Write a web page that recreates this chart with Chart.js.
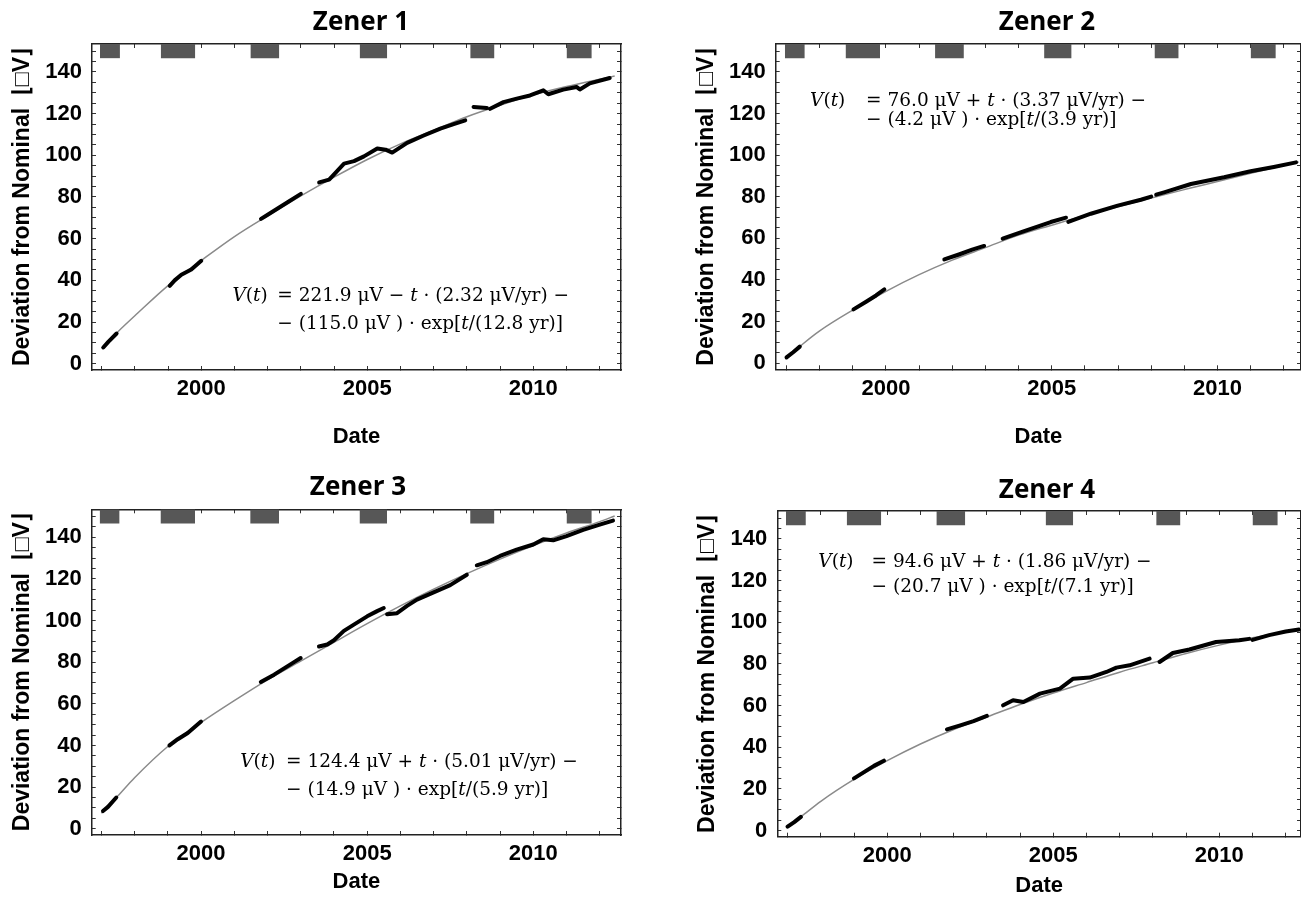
<!DOCTYPE html>
<html>
<head>
<meta charset="utf-8">
<script src="https://cdn.jsdelivr.net/npm/chart.js@4.4.0/dist/chart.umd.min.js"></script>
<style>
  html, body { margin: 0; padding: 0; background: #fff; }
  #wrap { position: relative; width: 1301px; height: 901px; overflow: hidden; }
  canvas { position: absolute; }
</style>
</head>
<body>
<div id="wrap">
  <canvas id="c1" width="650" height="450" style="left:0;top:0"></canvas>
  <canvas id="c2" width="651" height="450" style="left:650px;top:0"></canvas>
  <canvas id="c3" width="650" height="451" style="left:0;top:450px"></canvas>
  <canvas id="c4" width="651" height="451" style="left:650px;top:450px"></canvas>
</div>
<script>
// --- tick labels ---
const xTickLabels = [2000, 2005, 2010];
const yTickLabels = [0, 20, 40, 60, 80, 100, 120, 140];

// --- grey marks along the top of each frame (years) ---
const markStart = [1996.95, 1998.78, 2001.48, 2004.77, 2008.10, 2011.00];
const markEnd   = [1997.55, 1999.82, 2002.35, 2005.60, 2008.83, 2011.76];
const markLow = 146.6;
const markHigh = 153.4;

// --- fitted curves ---
const fitYears = [1997.0, 1997.5, 1998, 1999, 2000, 2001, 2002, 2003, 2004, 2005, 2006, 2007, 2008, 2009, 2010, 2011, 2012, 2012.45];
const z1Fit = [7.5, 15.5, 23, 37.5, 49.5, 61, 71, 80.5, 89.5, 98, 105.5, 112, 118.5, 124, 129, 133, 136.5, 138];
const z2Fit = [2.3, 9.3, 15.5, 25.5, 34.5, 42.5, 49.5, 55.5, 61.5, 66.3, 71, 75.2, 79.4, 83.4, 87.3, 91.2, 95, 96.7];
const z3Fit = [7.5, 15.8, 24.5, 39.5, 51, 61.5, 71.5, 80.5, 89.5, 98.5, 107, 115, 122.5, 129.5, 136, 142, 147.5, 150.2];
const z4Fit = [1.5, 7.8, 14, 24.5, 33.5, 41.5, 48.5, 54.5, 60.5, 66, 71, 76, 80.5, 85, 89, 92.5, 95.5, 97];

// --- measured deviations (null = no data) ---
const z1Years = [1997.05, 1997.2, 1997.45, 1998,
  1999.05, 1999.2, 1999.4, 1999.7, 2000.0, 2001,
  2001.8, 2002.0, 2002.3, 2002.6, 2003.0, 2003.3,
  2003.55, 2003.85, 2003.95, 2004.3, 2004.6, 2004.9, 2005.3, 2005.55, 2005.75, 2006.2, 2006.7, 2007.2, 2007.6, 2007.95, 2008.1,
  2008.2, 2008.6, 2008.65,
  2008.7, 2009.1, 2009.5, 2009.9, 2010.3, 2010.45, 2010.9, 2011.3, 2011.4, 2011.7, 2012.3];
const z1Vals = [7.8, 10.5, 14.5, null,
  37.4, 40, 42.7, 45.2, 49.4, null,
  69.5, 71.5, 74.5, 77.5, 81.5, null,
  87, 88.3, 90, 96, 97.2, 99.5, 103.3, 102.7, 101.3, 106, 109.5, 112.8, 115, 116.8, null,
  123.2, 122.7, null,
  122.3, 125.5, 127.2, 128.7, 131.2, 129.3, 131.5, 132.8, 131.6, 134.5, 137.1];

const z2Years = [1997.0, 1997.2, 1997.4, 1998,
  1999.02, 1999.4, 1999.7, 1999.95, 2001,
  2001.76, 2002.2, 2002.6, 2002.96, 2003.2,
  2003.52, 2004.17, 2004.97, 2005.43, 2005.46,
  2005.5, 2006.18, 2006.99, 2007.69, 2008.0, 2008.07,
  2008.15, 2008.39, 2009.2, 2010.2, 2011.0, 2011.7, 2012.37];
const z2Vals = [2.7, 5.2, 7.9, null,
  25.8, 29.5, 32.5, 35.4, null,
  49.8, 52.2, 54.5, 56.3, null,
  59.8, 63.4, 67.8, 69.9, null,
  67.9, 71.8, 75.7, 78.5, 80, null,
  81, 82.1, 86.1, 89.3, 92.2, 94.3, 96.5];

const z3Years = [1997.05, 1997.2, 1997.45, 1998,
  1999.05, 1999.3, 1999.6, 2000.0, 2001,
  2001.8, 2002.2, 2002.5, 2002.8, 2003.0, 2003.3,
  2003.55, 2003.8, 2004.0, 2004.3, 2004.6, 2005.0, 2005.3, 2005.5, 2005.55,
  2005.6, 2005.9, 2006.2, 2006.5, 2007.0, 2007.5, 2008.0, 2008.15,
  2008.3, 2008.6, 2009.0, 2009.5, 2010.0, 2010.3, 2010.6, 2011.0, 2011.5, 2012.0, 2012.4];
const z3Vals = [8.5, 10.5, 15, null,
  40, 43, 46, 51.5, null,
  70.5, 74, 77, 80, 82, null,
  87.5, 88.5, 90.5, 95, 98, 102, 104.5, 106, null,
  103, 103.5, 107, 110, 113.5, 117, 122, null,
  126.5, 128, 131, 134, 136.5, 139, 138.5, 140.5, 143.5, 146, 148];

const z4Years = [1997.0, 1997.2, 1997.4, 1998,
  1999.0, 1999.3, 1999.6, 1999.9, 2001,
  2001.8, 2002.2, 2002.6, 2003.0, 2003.2,
  2003.49, 2003.79, 2004.1, 2004.6, 2005.2, 2005.6, 2006.1, 2006.6, 2006.9, 2007.3, 2007.9, 2008.0,
  2008.2, 2008.6, 2009.1, 2009.9, 2010.6, 2010.9, 2010.95,
  2011.0, 2011.5, 2012.0, 2012.4];
const z4Vals = [1.8, 4, 6.5, null,
  25, 28, 31, 33.5, null,
  48.5, 50.5, 52.5, 55, null,
  60.1, 62.5, 61.7, 65.7, 68.1, 72.9, 73.4, 76.1, 78.2, 79.3, 82.5, null,
  80.9, 85.2, 86.9, 90.5, 91.3, 92, null,
  91.5, 93.8, 95.5, 96.5];

const tickFont = { family: "'Liberation Sans', Arial, sans-serif", size: 22, weight: 'bold', lineHeight: 1.2 };
const yTitleFont = { family: "'Liberation Sans', Arial, sans-serif", size: 23, weight: 'bold', lineHeight: 1.2 };
const eqFamily = "'DejaVu Serif', serif";
const eqSize = 18.5;

function pts(xs, ys) {
  return xs.map((x, i) => ({ x: x, y: ys[i] }));
}

function markPoints() {
  const out = [];
  markStart.forEach((s, i) => {
    out.push({ x: s, y: markHigh }, { x: markEnd[i], y: markHigh }, { x: markEnd[i] + 0.01, y: null });
  });
  return out;
}

// draws title and the fit equation
const panelText = {
  id: 'panelText',
  afterDraw(chart, args, opts) {
    const ctx = chart.ctx;
    const xs = chart.scales.x, ys = chart.scales.y;
    ctx.save();
    ctx.fillStyle = '#000';
    ctx.textBaseline = 'middle';
    ctx.textAlign = 'center';
    ctx.font = "bold 26px 'Open Sans', sans-serif";
    ctx.fillText(opts.title, opts.titleX, opts.titleY);

    ctx.textAlign = 'left';
    const drawRuns = (runs, x, y) => {
      runs.forEach(([txt, it]) => {
        ctx.font = (it ? 'italic ' : '') + eqSize + 'px ' + eqFamily;
        ctx.fillText(txt, x, y);
        x += ctx.measureText(txt).width;
      });
      return x;
    };
    const lhs = [['V', true], ['(', false], ['t', true], [')', false]];
    drawRuns(lhs, xs.getPixelForValue(opts.eqX), ys.getPixelForValue(opts.eqY1));
    const xEq = xs.getPixelForValue(opts.eqAlign);
    drawRuns(opts.line1, xEq, ys.getPixelForValue(opts.eqY1));
    drawRuns(opts.line2, xEq, ys.getPixelForValue(opts.eqY2));
    ctx.restore();
  }
};

function makeScales(p) {
  const frame = { color: '#222', width: 1.5 };
  const grid = { drawOnChartArea: false, drawTicks: true, tickLength: -4, tickColor: '#333', tickWidth: 1 };
  const xTicks = v => {
    const r = Math.round(v);
    return (Math.abs(v - r) < 1e-6 && xTickLabels.includes(r)) ? String(r) : '';
  };
  const yTicks = v => {
    const r = Math.round(v);
    return (Math.abs(v - r) < 1e-6 && yTickLabels.includes(r)) ? String(r) : '';
  };
  return {
    x: {
      type: 'linear', position: 'bottom', min: p.xMin, max: p.xMax,
      border: frame, grid: grid,
      ticks: { stepSize: 1, includeBounds: false, autoSkip: false, maxRotation: 0, minRotation: 0,
        padding: 10, color: '#000', font: tickFont, callback: xTicks },
      title: { display: true, text: 'Date', color: '#000', font: tickFont, padding: { top: 0, bottom: p.dateBottom } },
      afterFit: s => { s.height = p.xH; }
    },
    xTop: {
      type: 'linear', position: 'top', min: p.xMin, max: p.xMax,
      border: frame, grid: grid,
      ticks: { stepSize: 1, includeBounds: false, autoSkip: false, display: false },
      afterFit: s => { s.height = 0; }
    },
    y: {
      type: 'linear', position: 'left', min: -3, max: 153.4,
      border: frame, grid: grid,
      ticks: { stepSize: 5, includeBounds: false, autoSkip: false, padding: 14, color: '#000', font: tickFont, callback: yTicks },
      title: { display: true, text: 'Deviation from Nominal  \u230A\u25A1V\u230B', color: '#000', font: yTitleFont,
        padding: { top: p.yTitleTop, bottom: 0 } },
      afterFit: s => { s.width = p.yW; }
    },
    yRight: {
      type: 'linear', position: 'right', min: -3, max: 153.4,
      border: frame, grid: grid,
      ticks: { stepSize: 5, includeBounds: false, autoSkip: false, display: false },
      afterFit: s => { s.width = 0; }
    }
  };
}

function makeChart(id, p, years, vals, fit, text) {
  new Chart(document.getElementById(id), {
    type: 'scatter',
    data: {
      datasets: [
        { label: 'data', data: pts(years, vals), showLine: true, borderColor: '#000', borderWidth: 4,
          borderCapStyle: 'round', borderJoinStyle: 'round', pointRadius: 0, spanGaps: false, order: 1 },
        { label: 'fit', data: pts(fitYears, fit), showLine: true, borderColor: '#8a8a8a', borderWidth: 1.5,
          cubicInterpolationMode: 'monotone', pointRadius: 0, order: 2 },
        { label: 'marks', data: markPoints(), showLine: true, borderWidth: 0, borderColor: 'rgba(0,0,0,0)',
          backgroundColor: '#575757', fill: { value: markLow }, pointRadius: 0, spanGaps: false, order: 3 }
      ]
    },
    options: {
      responsive: false,
      animation: false,
      layout: { padding: { top: p.top, right: p.right, bottom: 0, left: 0 } },
      scales: makeScales(p),
      plugins: {
        legend: { display: false },
        tooltip: { enabled: false },
        panelText: text
      }
    },
    plugins: [panelText]
  });
}

makeChart('c1',
  { xMin: 1996.71, xMax: 2012.64, top: 44, right: 29, yW: 92, xH: 80, yTitleTop: 8.7, dateBottom: 0 },
  z1Years, z1Vals, z1Fit,
  { title: 'Zener 1', titleX: 361, titleY: 23, eqX: 2000.94, eqAlign: 2002.29, eqY1: 32.6, eqY2: 18.9,
    line1: [['= 221.9 \u03BCV \u2212 ', false], ['t', true], [' \u00B7 (2.32 \u03BCV/yr) \u2212', false]],
    line2: [['\u2212 (115.0 \u03BCV ) \u00B7 exp[', false], ['t', true], ['/(12.8 yr)]', false]] });

makeChart('c2',
  { xMin: 1996.673, xMax: 2012.52, top: 44, right: 0, yW: 125.7, xH: 80.7, yTitleTop: 42.9, dateBottom: 0 },
  z2Years, z2Vals, z2Fit,
  { title: 'Zener 2', titleX: 397, titleY: 23, eqX: 1997.71, eqAlign: 1999.40, eqY1: 126, eqY2: 117,
    line1: [['= 76.0 \u03BCV + ', false], ['t', true], [' \u00B7 (3.37 \u03BCV/yr) \u2212', false]],
    line2: [['\u2212 (4.2 \u03BCV ) \u00B7 exp[', false], ['t', true], ['/(3.9 yr)]', false]] });

makeChart('c3',
  { xMin: 1996.71, xMax: 2012.64, top: 59.3, right: 29, yW: 91.7, xH: 66, yTitleTop: 8.7, dateBottom: 5.8 },
  z3Years, z3Vals, z3Fit,
  { title: 'Zener 3', titleX: 358, titleY: 38, eqX: 2001.18, eqAlign: 2002.56, eqY1: 32, eqY2: 18.4,
    line1: [['= 124.4 \u03BCV + ', false], ['t', true], [' \u00B7 (5.01 \u03BCV/yr) \u2212', false]],
    line2: [['\u2212 (14.9 \u03BCV ) \u00B7 exp[', false], ['t', true], ['/(5.9 yr)]', false]] });

makeChart('c4',
  { xMin: 1996.69, xMax: 2012.46, top: 61, right: 0, yW: 127.3, xH: 64.3, yTitleTop: 43.7, dateBottom: 1.8 },
  z4Years, z4Vals, z4Fit,
  { title: 'Zener 4', titleX: 397, titleY: 41, eqX: 1997.925, eqAlign: 1999.53, eqY1: 129, eqY2: 117,
    line1: [['= 94.6 \u03BCV + ', false], ['t', true], [' \u00B7 (1.86 \u03BCV/yr) \u2212', false]],
    line2: [['\u2212 (20.7 \u03BCV ) \u00B7 exp[', false], ['t', true], ['/(7.1 yr)]', false]] });
</script>
</body>
</html>
